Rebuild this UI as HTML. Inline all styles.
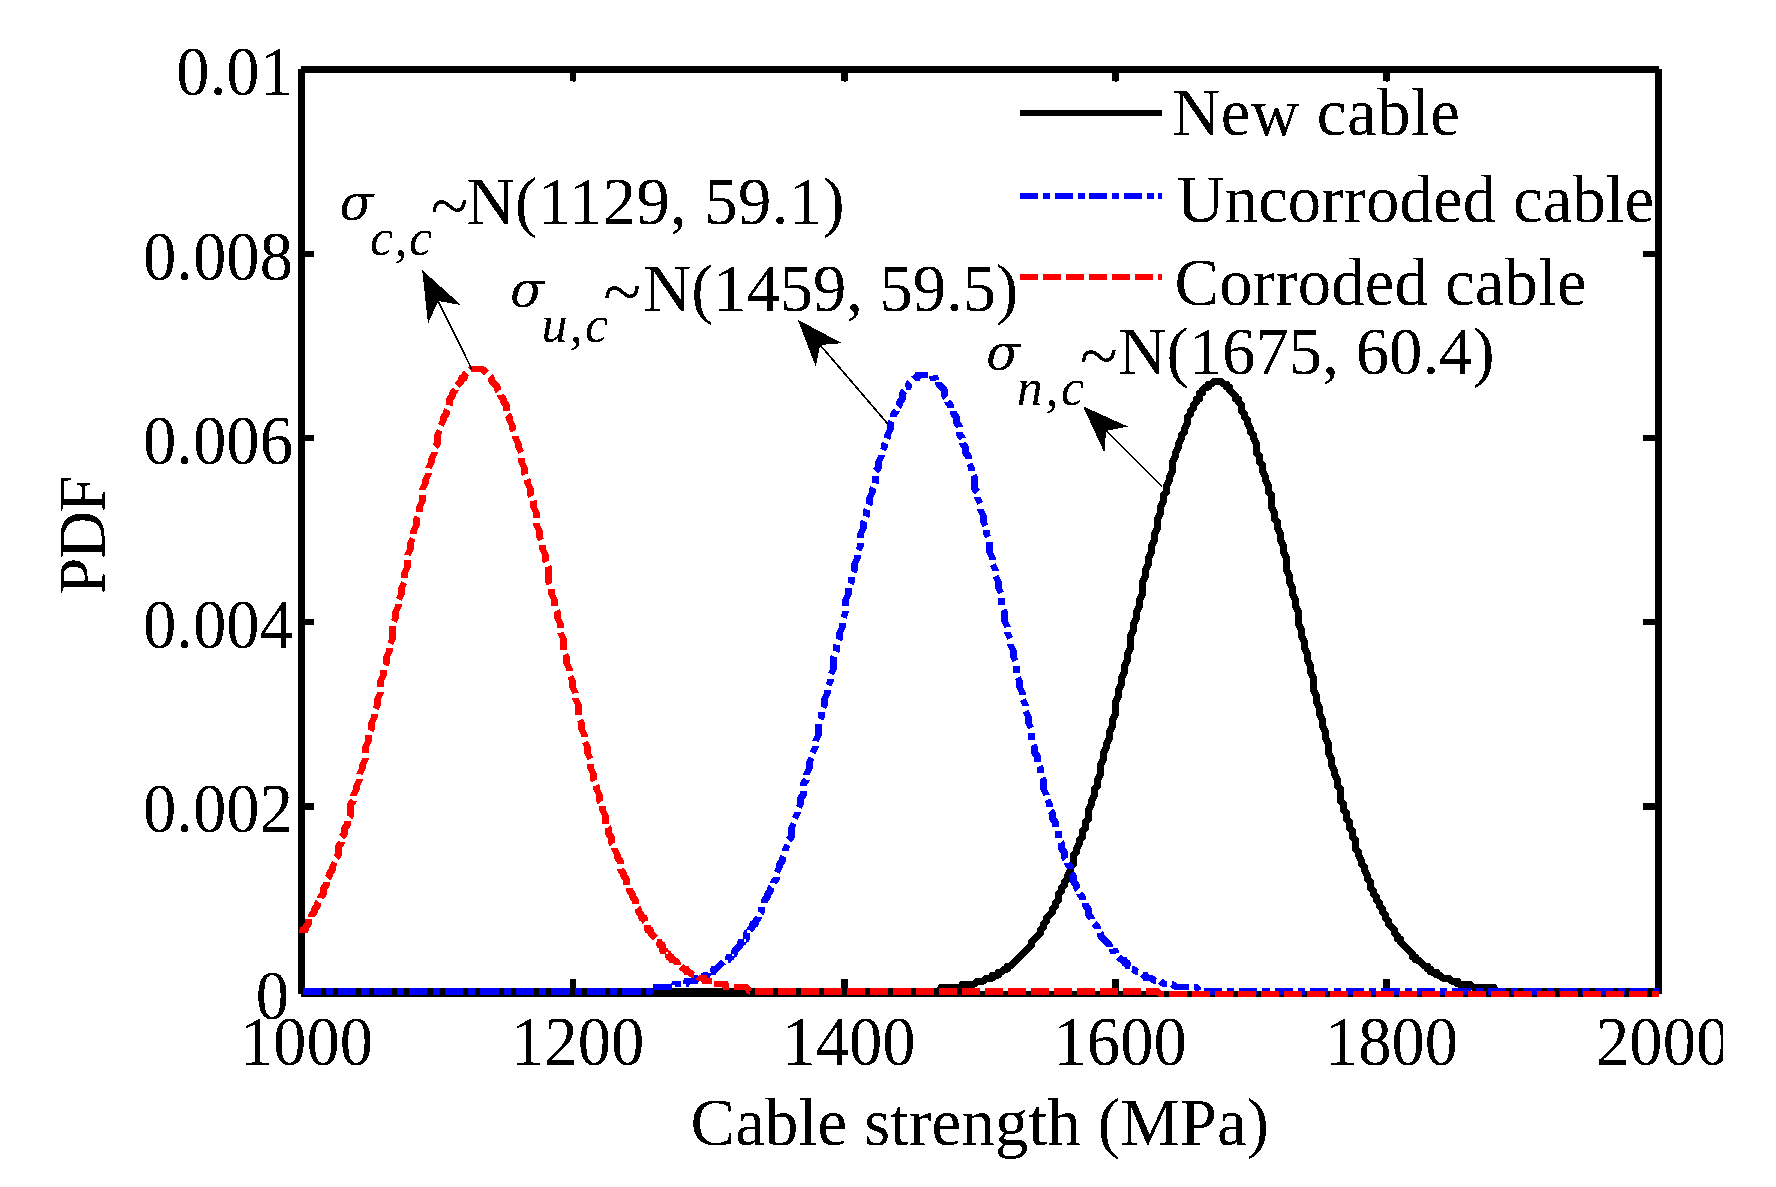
<!DOCTYPE html>
<html lang="en"><head><meta charset="utf-8"><title>Cable strength PDF</title>
<style>
html,body{margin:0;padding:0;background:#fff;}
body{width:1776px;height:1187px;overflow:hidden;}
svg{display:block;}
text{font-family:"Liberation Serif","Times New Roman",Times,serif;font-size:66.67px;fill:#000;}
.it{font-style:italic;}
.sub{font-style:italic;font-size:52px;letter-spacing:1.5px;}
.sig{font-family:"DejaVu Serif","Liberation Serif",serif;font-style:italic;font-size:50px;}
.til{font-size:70px;}
</style></head><body>
<svg width="1776" height="1187" viewBox="0 0 1776 1187">
<defs><filter id="bin" x="-5%" y="-5%" width="110%" height="110%" color-interpolation-filters="sRGB"><feComponentTransfer><feFuncA type="discrete" tableValues="0 1"/></feComponentTransfer></filter>
<clipPath id="clipR"><rect x="0" y="0" width="1723" height="1187"/></clipPath></defs>
<rect width="1776" height="1187" fill="#fff"/>
<g shape-rendering="crispEdges" fill="#000">
<rect x="301" y="66" width="1358" height="7"/>
<rect x="298" y="69" width="7" height="925"/>
<rect x="301" y="991" width="1358" height="6"/>
<rect x="1655" y="69" width="7" height="925"/>
<rect x="570" y="66" width="6" height="15"/>
<rect x="573" y="81" width="2" height="1"/>
<rect x="570" y="979" width="6" height="18"/>
<rect x="841" y="66" width="7" height="15"/>
<rect x="844" y="81" width="2" height="1"/>
<rect x="841" y="979" width="7" height="18"/>
<rect x="1112" y="66" width="7" height="15"/>
<rect x="1115" y="81" width="2" height="1"/>
<rect x="1112" y="979" width="7" height="18"/>
<rect x="1383" y="66" width="7" height="15"/>
<rect x="1386" y="81" width="2" height="1"/>
<rect x="1383" y="979" width="7" height="18"/>
<rect x="298" y="251" width="16" height="6"/>
<rect x="1643" y="251" width="19" height="6"/>
<rect x="298" y="435" width="16" height="6"/>
<rect x="1643" y="435" width="19" height="6"/>
<rect x="298" y="619" width="16" height="6"/>
<rect x="1643" y="619" width="19" height="6"/>
<rect x="298" y="803" width="16" height="7"/>
<rect x="1643" y="803" width="19" height="7"/>
</g>
<g fill="none" shape-rendering="crispEdges" stroke-linejoin="round">
<polyline stroke="#000" stroke-width="7" points="302.5,991.5 938.5,991.5 941.5,987 962.5,987 962.5,984 974.5,984 977.5,981 983.5,981 986.5,978 992.5,978 992.5,975 998.5,975 998.5,972 1001.5,972 1004.5,969 1007.5,969 1007.5,966 1010.5,966 1031.5,945 1031.5,942 1040.5,933 1040.5,930 1043.5,927 1043.5,924 1046.5,921 1046.5,918 1052.5,912 1052.5,909 1055.5,906 1055.5,903 1058.5,900 1058.5,894 1061.5,891 1061.5,888 1064.5,885 1064.5,882 1067.5,879 1067.5,876 1070.5,870 1070.5,867 1073.5,864 1073.5,855 1076.5,852 1076.5,849 1079.5,843 1079.5,840 1082.5,837 1082.5,831 1085.5,828 1085.5,822 1088.5,819 1088.5,810 1091.5,804 1091.5,801 1094.5,795 1094.5,789 1097.5,786 1097.5,780 1100.5,774 1100.5,765 1103.5,759 1103.5,753 1106.5,747 1106.5,744 1109.5,738 1109.5,732 1112.5,726 1112.5,720 1115.5,714 1115.5,702 1118.5,696 1118.5,690 1121.5,684 1121.5,678 1124.5,672 1124.5,666 1127.5,660 1127.5,654 1130.5,648 1130.5,636 1133.5,630 1133.5,624 1136.5,618 1136.5,612 1139.5,606 1139.5,600 1142.5,594 1142.5,582 1145.5,576 1145.5,570 1148.5,564 1148.5,558 1151.5,552 1151.5,546 1154.5,540 1154.5,534 1157.5,528 1157.5,519 1160.5,513 1160.5,507 1163.5,501 1163.5,495 1166.5,492 1166.5,486 1169.5,480 1169.5,477 1172.5,471 1172.5,462 1175.5,456 1175.5,453 1178.5,447 1178.5,444 1181.5,438 1181.5,435 1184.5,432 1184.5,429 1187.5,423 1187.5,417 1190.5,414 1190.5,411 1193.5,408 1193.5,405 1196.5,402 1196.5,399 1199.5,399 1199.5,393 1202.5,393 1202.5,390 1205.5,387 1208.5,387 1208.5,384 1211.5,384 1214.5,381 1220.5,381 1223.5,384 1226.5,384 1226.5,387 1229.5,387 1229.5,390 1235.5,396 1235.5,399 1238.5,399 1238.5,402 1241.5,405 1241.5,411 1244.5,414 1244.5,417 1247.5,420 1247.5,423 1250.5,429 1250.5,432 1253.5,435 1253.5,438 1256.5,444 1256.5,453 1259.5,456 1259.5,462 1262.5,465 1262.5,471 1265.5,477 1265.5,480 1268.5,486 1268.5,492 1271.5,495 1271.5,507 1274.5,513 1274.5,519 1277.5,522 1277.5,528 1280.5,534 1280.5,540 1283.5,546 1283.5,552 1286.5,558 1286.5,570 1289.5,576 1289.5,582 1292.5,588 1292.5,594 1295.5,600 1295.5,606 1298.5,612 1298.5,624 1301.5,630 1301.5,636 1304.5,642 1304.5,648 1307.5,654 1307.5,660 1310.5,666 1310.5,672 1313.5,678 1313.5,690 1316.5,696 1316.5,702 1319.5,708 1319.5,714 1322.5,720 1322.5,726 1325.5,732 1325.5,738 1328.5,744 1328.5,753 1331.5,759 1331.5,765 1334.5,771 1334.5,774 1337.5,780 1337.5,786 1340.5,789 1340.5,801 1343.5,804 1343.5,810 1346.5,813 1346.5,819 1349.5,822 1349.5,828 1352.5,831 1352.5,837 1355.5,840 1355.5,849 1358.5,852 1358.5,855 1361.5,861 1361.5,864 1364.5,867 1364.5,870 1367.5,876 1367.5,879 1370.5,882 1370.5,888 1373.5,891 1373.5,894 1376.5,897 1376.5,900 1379.5,903 1379.5,906 1382.5,909 1382.5,912 1385.5,915 1385.5,918 1388.5,921 1388.5,924 1394.5,930 1394.5,933 1397.5,936 1397.5,939 1400.5,939 1400.5,942 1412.5,954 1412.5,957 1415.5,957 1415.5,960 1418.5,960 1424.5,966 1427.5,966 1427.5,969 1430.5,969 1430.5,972 1436.5,972 1436.5,975 1439.5,975 1442.5,978 1448.5,978 1451.5,981 1457.5,981 1457.5,984 1469.5,984 1472.5,987 1493.5,987 1496.5,991.5 1658.5,991.5"/>
<polyline stroke="#00f" stroke-width="6.4" stroke-dasharray="18.282 5.078 7.110 5.078" points="302.5,991.5 650.5,991.5 650.5,987 674.5,987 674.5,984 686.5,984 686.5,981 695.5,981 695.5,978 701.5,978 704.5,975 707.5,975 707.5,972 713.5,972 713.5,969 716.5,969 725.5,960 728.5,960 728.5,957 731.5,957 731.5,954 734.5,954 734.5,951 740.5,945 740.5,942 743.5,942 743.5,939 746.5,939 746.5,933 749.5,933 749.5,930 752.5,927 752.5,924 755.5,924 755.5,921 758.5,918 758.5,915 761.5,912 761.5,906 764.5,903 764.5,900 767.5,897 767.5,894 770.5,891 770.5,888 773.5,885 773.5,882 776.5,879 776.5,873 779.5,867 779.5,864 782.5,861 782.5,858 785.5,852 785.5,849 788.5,843 788.5,840 791.5,837 791.5,828 794.5,822 794.5,819 797.5,813 797.5,810 800.5,804 800.5,798 803.5,795 803.5,783 806.5,780 806.5,774 809.5,768 809.5,762 812.5,756 812.5,753 815.5,747 815.5,741 818.5,735 818.5,723 821.5,717 821.5,711 824.5,705 824.5,699 827.5,693 827.5,687 830.5,681 830.5,675 833.5,669 833.5,657 836.5,651 836.5,645 839.5,639 839.5,633 842.5,627 842.5,621 845.5,612 845.5,600 848.5,594 848.5,588 851.5,582 851.5,576 854.5,570 854.5,564 857.5,558 857.5,552 860.5,546 860.5,534 863.5,528 863.5,522 866.5,516 866.5,510 869.5,504 869.5,498 872.5,492 872.5,489 875.5,483 875.5,471 878.5,468 878.5,462 881.5,456 881.5,453 884.5,447 884.5,444 887.5,438 887.5,435 890.5,429 890.5,423 893.5,417 893.5,414 896.5,411 896.5,408 899.5,405 899.5,402 902.5,399 902.5,393 905.5,390 905.5,387 908.5,387 908.5,384 914.5,378 917.5,378 917.5,375 932.5,375 932.5,378 935.5,378 935.5,381 938.5,381 938.5,384 944.5,390 944.5,396 947.5,399 947.5,402 950.5,405 950.5,408 953.5,411 953.5,414 956.5,417 956.5,423 959.5,426 959.5,435 962.5,438 962.5,444 965.5,447 965.5,453 968.5,456 968.5,462 971.5,468 971.5,471 974.5,477 974.5,489 977.5,492 977.5,498 980.5,504 980.5,510 983.5,516 983.5,522 986.5,528 986.5,534 989.5,540 989.5,552 992.5,558 992.5,564 995.5,570 995.5,576 998.5,582 998.5,588 1001.5,594 1001.5,606 1004.5,612 1004.5,621 1007.5,627 1007.5,633 1010.5,639 1010.5,645 1013.5,651 1013.5,657 1016.5,663 1016.5,675 1019.5,681 1019.5,687 1022.5,693 1022.5,699 1025.5,705 1025.5,711 1028.5,717 1028.5,723 1031.5,729 1031.5,741 1034.5,747 1034.5,753 1037.5,756 1037.5,762 1040.5,768 1040.5,774 1043.5,780 1043.5,789 1046.5,795 1046.5,798 1049.5,804 1049.5,810 1052.5,813 1052.5,819 1055.5,822 1055.5,828 1058.5,831 1058.5,840 1061.5,843 1061.5,849 1064.5,852 1064.5,858 1067.5,861 1067.5,864 1070.5,867 1070.5,873 1073.5,876 1073.5,882 1076.5,885 1076.5,888 1079.5,891 1079.5,894 1082.5,897 1082.5,900 1085.5,903 1085.5,906 1088.5,909 1088.5,915 1091.5,918 1091.5,921 1097.5,927 1097.5,930 1100.5,933 1100.5,936 1109.5,945 1109.5,948 1112.5,948 1112.5,951 1115.5,951 1115.5,954 1121.5,960 1124.5,960 1124.5,963 1127.5,963 1127.5,966 1130.5,966 1130.5,969 1133.5,969 1136.5,972 1139.5,972 1142.5,975 1145.5,975 1145.5,978 1151.5,978 1154.5,981 1160.5,981 1163.5,984 1172.5,984 1175.5,987 1196.5,987 1199.5,991.5 1658.5,991.5"/>
<polyline stroke="#f00" stroke-width="6.4" stroke-dasharray="18.021 5.006" points="302.5,933 302.5,930 305.5,930 305.5,927 308.5,924 308.5,918 311.5,918 311.5,915 314.5,912 314.5,909 317.5,906 317.5,903 320.5,900 320.5,897 323.5,894 323.5,888 326.5,885 326.5,879 329.5,876 329.5,873 332.5,870 332.5,867 335.5,861 335.5,858 338.5,855 338.5,846 341.5,843 341.5,837 344.5,834 344.5,828 347.5,825 347.5,819 350.5,816 350.5,804 353.5,801 353.5,795 356.5,789 356.5,786 359.5,780 359.5,774 362.5,768 362.5,765 365.5,759 365.5,747 368.5,741 368.5,735 371.5,729 371.5,723 374.5,717 374.5,711 377.5,705 377.5,699 380.5,693 380.5,681 383.5,675 383.5,669 386.5,663 386.5,657 389.5,651 389.5,645 392.5,639 392.5,624 395.5,618 395.5,612 398.5,606 398.5,600 401.5,594 401.5,588 404.5,582 404.5,573 407.5,567 407.5,555 410.5,549 410.5,543 413.5,537 413.5,531 416.5,525 416.5,519 419.5,513 419.5,507 422.5,501 422.5,489 425.5,483 425.5,480 428.5,474 428.5,468 431.5,462 431.5,459 434.5,453 434.5,447 437.5,444 437.5,435 440.5,429 440.5,426 443.5,420 443.5,417 446.5,414 446.5,411 449.5,405 449.5,399 452.5,396 452.5,393 455.5,390 455.5,387 461.5,381 461.5,378 464.5,378 464.5,375 470.5,369 482.5,369 491.5,378 491.5,381 497.5,387 497.5,390 500.5,393 500.5,396 503.5,399 503.5,402 506.5,405 506.5,414 509.5,417 509.5,420 512.5,426 512.5,429 515.5,435 515.5,438 518.5,444 518.5,447 521.5,453 521.5,462 524.5,468 524.5,474 527.5,480 527.5,483 530.5,489 530.5,495 533.5,501 533.5,507 536.5,513 536.5,525 539.5,531 539.5,537 542.5,543 542.5,549 545.5,555 545.5,561 548.5,567 548.5,582 551.5,588 551.5,594 554.5,600 554.5,606 557.5,612 557.5,618 560.5,624 560.5,633 563.5,639 563.5,651 566.5,657 566.5,663 569.5,669 569.5,675 572.5,681 572.5,687 575.5,693 575.5,699 578.5,705 578.5,717 581.5,723 581.5,729 584.5,735 584.5,741 587.5,747 587.5,753 590.5,759 590.5,768 593.5,774 593.5,780 596.5,786 596.5,789 599.5,795 599.5,801 602.5,804 602.5,810 605.5,816 605.5,825 608.5,828 608.5,834 611.5,837 611.5,843 614.5,846 614.5,849 617.5,855 617.5,858 620.5,861 620.5,870 623.5,873 623.5,876 626.5,879 626.5,885 629.5,888 629.5,891 632.5,894 632.5,897 635.5,900 635.5,906 638.5,909 638.5,912 641.5,915 641.5,918 644.5,918 644.5,921 647.5,924 647.5,930 650.5,930 650.5,933 656.5,939 656.5,942 659.5,942 659.5,945 662.5,945 662.5,951 665.5,951 665.5,954 668.5,954 668.5,957 671.5,957 671.5,960 674.5,960 677.5,963 677.5,966 680.5,966 683.5,969 686.5,969 686.5,972 689.5,972 692.5,975 695.5,975 698.5,978 704.5,978 704.5,981 713.5,981 713.5,984 725.5,984 725.5,987 746.5,987 749.5,991.5 1157.5,991.5 1160.5,994 1658.5,994"/>
</g>
<g shape-rendering="crispEdges" fill="none" stroke-width="6">
<line x1="1020" y1="113" x2="1162" y2="113" stroke="#000"/>
<line x1="1020" y1="196" x2="1162" y2="196" stroke="#00f" stroke-dasharray="18 5 7 4.5"/>
<line x1="1020" y1="277" x2="1162" y2="277" stroke="#f00" stroke-dasharray="18 5"/>
</g>
<g shape-rendering="crispEdges">
<line x1="471.9" y1="369.4" x2="438.2" y2="301.0" stroke="#000" stroke-width="1.7"/>
<polygon fill="#000" points="422.2,270.0 461.0,305.0 438.2,301.0 428.0,323.7"/>
<line x1="887.6" y1="423.7" x2="820.1" y2="345.0" stroke="#000" stroke-width="1.7"/>
<polygon fill="#000" points="797.8,319.7 841.8,343.2 820.1,345.0 815.8,366.7"/>
<line x1="1161.9" y1="486.5" x2="1106.1" y2="430.8" stroke="#000" stroke-width="1.7"/>
<polygon fill="#000" points="1083.0,406.3 1128.0,426.6 1106.1,430.8 1104.4,452.7"/>
</g>
<g filter="url(#bin)">
<text transform="translate(293.0,94.5) scale(1,1.035)" text-anchor="end">0.01</text>
<text transform="translate(293.0,279.9) scale(1,1.035)" text-anchor="end">0.008</text>
<text transform="translate(293.0,463.9) scale(1,1.035)" text-anchor="end">0.006</text>
<text transform="translate(293.0,647.9) scale(1,1.035)" text-anchor="end">0.004</text>
<text transform="translate(293.0,831.9) scale(1,1.035)" text-anchor="end">0.002</text>
<text transform="translate(289.1,1019.3) scale(1,1.035)" text-anchor="end">0</text>
<g clip-path="url(#clipR)">
<text transform="translate(306.4,1064.5) scale(1,1.035)" text-anchor="middle">1000</text>
<text transform="translate(577.7,1064.5) scale(1,1.035)" text-anchor="middle">1200</text>
<text transform="translate(849.0,1064.5) scale(1,1.035)" text-anchor="middle">1400</text>
<text transform="translate(1120.2,1064.5) scale(1,1.035)" text-anchor="middle">1600</text>
<text transform="translate(1391.5,1064.5) scale(1,1.035)" text-anchor="middle">1800</text>
<text transform="translate(1662.7,1064.5) scale(1,1.035)" text-anchor="middle">2000</text>
</g>
<text x="979.8" y="1145.4" text-anchor="middle" textLength="578.5" lengthAdjust="spacing">Cable strength (MPa)</text>
<text transform="translate(104.5,535.7) rotate(-90)" text-anchor="middle" style="letter-spacing:-1.5px">PDF</text>
<text x="1172" y="134.5" textLength="287.8" lengthAdjust="spacing">New cable</text>
<text x="1176.4" y="221.5" textLength="477.7" lengthAdjust="spacing">Uncorroded cable</text>
<text x="1174.6" y="305" textLength="411.9" lengthAdjust="spacing">Corroded cable</text>
<text class="sig" x="339.6" y="220.0">σ</text>
<text class="sub" style="letter-spacing:1.50px" x="369.9" y="255.0">c,c</text>
<text class="til" x="430.5" y="228.5">~</text>
<text x="466.6" y="224.0" textLength="378.0" lengthAdjust="spacing">N(1129, 59.1)</text>
<text class="sig" x="509.9" y="306.5">σ</text>
<text class="sub" style="letter-spacing:2.30px" x="541.4" y="341.5">u,c</text>
<text class="til" x="603.2" y="315.0">~</text>
<text x="643.1" y="310.5" textLength="375.0" lengthAdjust="spacing">N(1459, 59.5)</text>
<text class="sig" x="985.9" y="370.2">σ</text>
<text class="sub" style="letter-spacing:2.70px" x="1016.7" y="405.2">n,c</text>
<text class="til" x="1079.7" y="378.7">~</text>
<text x="1118.2" y="374.2" textLength="376.5" lengthAdjust="spacing">N(1675, 60.4)</text>
</g>
</svg></body></html>
